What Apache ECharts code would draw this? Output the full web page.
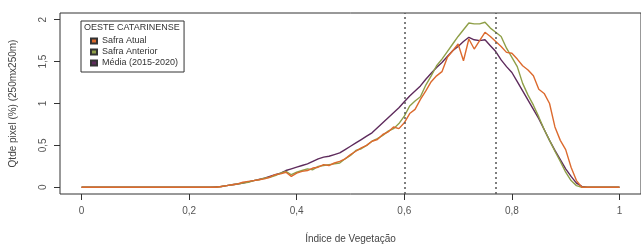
<!DOCTYPE html>
<html>
<head>
<meta charset="utf-8">
<script src="https://cdn.jsdelivr.net/npm/echarts@6/dist/echarts.min.js"></script>
<style>html,body{margin:0;padding:0;background:#fff}#c{width:641px;height:249px}</style>
</head>
<body>
<div id="c"></div>
<script>
const xs = [0,0.01,0.02,0.03,0.04,0.05,0.06,0.07,0.08,0.09,
0.10,0.11,0.12,0.13,0.14,0.15,0.16,0.17,0.18,0.19,
0.20,0.21,0.22,0.23,0.24,0.25,0.26,0.27,0.28,0.29,
0.30,0.31,0.32,0.33,0.34,0.35,0.36,0.37,0.38,0.39,
0.40,0.41,0.42,0.43,0.44,0.45,0.46,0.47,0.48,0.49,
0.50,0.51,0.52,0.53,0.54,0.55,0.56,0.57,0.58,0.59,
0.60,0.61,0.62,0.63,0.64,0.65,0.66,0.67,0.68,0.69,
0.70,0.71,0.72,0.73,0.74,0.75,0.76,0.77,0.78,0.79,
0.80,0.81,0.82,0.83,0.84,0.85,0.86,0.87,0.88,0.89,
0.90,0.91,0.92,0.93,0.94,0.95,0.96,0.97,0.98,0.99,1.00];

const safraAtual = [0,0,0,0,0,0,0,0,0,0,
0,0,0,0,0,0,0,0,0,0,
0,0,0,0,0,0,0.01,0.02,0.03,0.04,
0.06,0.07,0.08,0.09,0.10,0.12,0.15,0.16,0.18,0.13,
0.17,0.19,0.20,0.23,0.24,0.27,0.26,0.29,0.31,0.34,
0.39,0.43,0.47,0.50,0.55,0.57,0.63,0.66,0.72,0.70,
0.77,0.88,0.93,1.05,1.15,1.26,1.33,1.38,1.55,1.63,
1.71,1.51,1.77,1.65,1.75,1.85,1.80,1.74,1.68,1.61,
1.60,1.53,1.45,1.40,1.33,1.17,1.12,1.00,0.72,0.56,
0.45,0.24,0.08,0,0,0,0,0,0,0,0];

const safraAnterior = [0,0,0,0,0,0,0,0,0,0,
0,0,0,0,0,0,0,0,0,0,
0,0,0,0,0,0,0.01,0.02,0.03,0.04,
0.05,0.06,0.08,0.09,0.11,0.12,0.14,0.17,0.19,0.15,
0.18,0.20,0.22,0.21,0.25,0.26,0.27,0.28,0.29,0.34,
0.38,0.44,0.46,0.50,0.55,0.58,0.62,0.67,0.70,0.76,
0.85,0.97,1.03,1.08,1.22,1.33,1.45,1.53,1.62,1.71,
1.80,1.88,1.96,1.95,1.95,1.97,1.90,1.85,1.80,1.66,
1.55,1.44,1.24,1.10,0.98,0.84,0.69,0.56,0.43,0.31,
0.18,0.08,0.02,0,0,0,0,0,0,0,0];

const media = [0,0,0,0,0,0,0,0,0,0,
0,0,0,0,0,0,0,0,0,0,
0,0,0,0,0,0.005,0.01,0.02,0.03,0.04,
0.05,0.065,0.08,0.095,0.11,0.13,0.15,0.17,0.20,0.22,
0.24,0.26,0.28,0.31,0.34,0.36,0.37,0.39,0.41,0.45,
0.49,0.53,0.57,0.61,0.65,0.71,0.77,0.83,0.89,0.95,
1.02,1.09,1.15,1.21,1.29,1.36,1.43,1.49,1.56,1.63,
1.68,1.74,1.79,1.76,1.75,1.76,1.69,1.62,1.52,1.44,
1.37,1.26,1.15,1.04,0.93,0.82,0.69,0.56,0.44,0.33,
0.22,0.13,0.05,0.01,0,0,0,0,0,0,0];

const xTicks = [0, 0.2, 0.4, 0.6, 0.8, 1];
const yTicks = [0, 0.5, 1, 1.5, 2];
const refLines = [0.6, 0.768];
const legendTitle = 'OESTE CATARINENSE';
const names = ['Safra Atual', 'Safra Anterior', 'Média (2015-2020)'];
const colors = ['#dc6a2e', '#8f9f48', '#5e2b5c'];

const fmt = v => String(v).replace('.', ',');
const chart = echarts.init(document.getElementById('c'), null, {renderer: 'canvas'});
const FONT = 'Liberation Sans, Arial, sans-serif';

const mk = (name, arr, color, z, extra) => Object.assign({
  name, type: 'line', data: xs.map((x, i) => [x, arr[i]]),
  showSymbol: false, symbol: 'none', z,
  lineStyle: {color, width: 1.4}, itemStyle: {color, borderColor: '#333', borderWidth: 0.6},
  animation: false
}, extra || {});

chart.setOption({
  animation: false,
  grid: {left: 60, top: 13, width: 582, height: 184, show: true, borderColor: '#333', borderWidth: 1, backgroundColor: 'transparent'},
  xAxis: {
    type: 'value', min: -0.04, max: 1.04,
    splitLine: {show: false},
    axisLine: {show: false, onZero: false},
    axisTick: {show: true, customValues: xTicks, length: 6, inside: false, lineStyle: {color: '#333'}},
    axisLabel: {customValues: xTicks, formatter: fmt, color: '#555', fontSize: 10, margin: 12, fontFamily: FONT},
    name: 'Índice de Vegetação', nameLocation: 'middle', nameGap: 40,
    nameTextStyle: {color: '#444', fontSize: 10, fontFamily: FONT}
  },
  yAxis: {
    type: 'value', min: -0.08, max: 2.08,
    splitLine: {show: false},
    axisLine: {show: false, onZero: false},
    axisTick: {show: true, customValues: yTicks, length: 6, lineStyle: {color: '#333'}},
    axisLabel: {customValues: yTicks, formatter: fmt, color: '#555', fontSize: 10, margin: 12, rotate: 90, fontFamily: FONT},
    name: 'Qtde pixel (%) (250mx250m)', nameLocation: 'middle', nameGap: 42, nameRotate: 90,
    nameTextStyle: {color: '#444', fontSize: 10, fontFamily: FONT}
  },
  legend: {
    orient: 'vertical', left: 81, top: 21,
    padding: [15, 6, 4, 9], itemGap: 1,
    borderColor: '#333', borderWidth: 1, backgroundColor: '#fff',
    itemWidth: 6, itemHeight: 5, icon: 'rect',
    textStyle: {fontSize: 9, color: '#333', fontFamily: FONT, lineHeight: 10},
    data: names
  },
  graphic: [{
    type: 'text', left: 84, top: 23, z: 100,
    style: {text: legendTitle, fontSize: 9, fill: '#333', fontFamily: FONT}
  }],
  series: [
    mk(names[0], safraAtual, colors[0], 4),
    mk(names[1], safraAnterior, colors[1], 3),
    mk(names[2], media, colors[2], 2, {
      markLine: {
        silent: true, symbol: ['none', 'none'], label: {show: false},
        lineStyle: {color: '#555', type: [2, 3], width: 1.5},
        data: refLines.map(v => ({xAxis: v}))
      }
    })
  ]
});
</script>
</body>
</html>
